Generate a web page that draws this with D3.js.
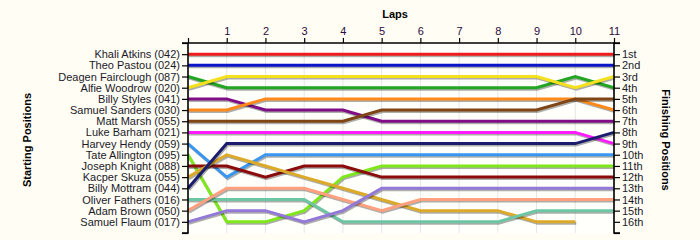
<!DOCTYPE html>
<html><head><meta charset="utf-8">
<script src="https://cdn.jsdelivr.net/npm/d3@7"></script>
<style>
html,body{margin:0;padding:0;background:#fffdf4;}
svg{display:block;font-family:"Liberation Sans",Arial,sans-serif;}
</style></head>
<body><svg id="c" width="700" height="240"></svg>
<script>
const laps = [0,1,2,3,4,5,6,7,8,9,10,11];
const lapLabels = ["","1","2","3","4","5","6","7","8","9","10","11"];
const drivers = ["Khali Atkins (042)","Theo Pastou (024)","Deagen Fairclough (087)","Alfie Woodrow (020)","Billy Styles (041)","Samuel Sanders (030)","Matt Marsh (055)","Luke Barham (021)","Harvey Hendy (059)","Tate Allington (095)","Joseph Knight (088)","Kacper Skuza (055)","Billy Mottram (044)","Oliver Fathers (016)","Adam Brown (050)","Samuel Flaum (017)"];
const finishLabels = ["1st","2nd","3rd","4th","5th","6th","7th","8th","9th","10th","11th","12th","13th","14th","15th","16th"];
const colors = ["#ee1c1c","#0a14c8","#22a522","#f4e01c","#800c86","#ff8a1a","#7f4515","#ff1aff","#3a96f0","#7ee81a","#8b0a0a","#dcaa28","#1c1c6e","#6cc6a4","#ffa07e","#9278d8"];
const pos = [
 [1,1,1,1,1,1,1,1,1,1,1,1],
 [2,2,2,2,2,2,2,2,2,2,2,2],
 [3,4,4,4,4,4,4,4,4,4,3,4],
 [4,3,3,3,3,3,3,3,3,3,4,3],
 [5,5,6,6,6,7,7,7,7,7,7,7],
 [6,6,5,5,5,5,5,5,5,5,5,6],
 [7,7,7,7,7,6,6,6,6,6,5,5],
 [8,8,8,8,8,8,8,8,8,8,8,9],
 [9,12,10,10,10,10,10,10,10,10,10,10],
 [10,16,16,15,12,11,11,11,11,11,11,11],
 [11,11,12,11,11,12,12,12,12,12,12,12],
 [12,10,11,12,13,14,15,15,15,16,16,null],
 [13,9,9,9,9,9,9,9,9,9,9,8],
 [14,14,14,14,16,16,16,16,16,15,15,15],
 [15,13,13,13,14,15,14,14,14,14,14,14],
 [16,15,15,16,15,13,13,13,13,13,13,13]
];

const svg = d3.select("#c");
const L = 188, R = 614, T = 43, B = 233;
const x = d3.scaleLinear().domain([0,11]).range([L,R]);
const y = d3.scaleLinear().domain([0,17]).range([T,B]);

svg.append("rect").attr("x",L).attr("y",T).attr("width",R-L).attr("height",B-T).attr("fill","#fffffb");

// vertical gridlines
svg.append("g").selectAll("line").data(laps.slice(1)).join("line")
  .attr("x1",d=>x(d)).attr("x2",d=>x(d)).attr("y1",T).attr("y2",B)
  .attr("stroke","#e6e6e6").attr("stroke-width",1);

const line = d3.line().defined(d=>d[1]!=null).x(d=>x(d[0])).y(d=>y(d[1]));
const g = svg.append("g");
pos.forEach((p,i)=>{
  const pts = laps.map((l,j)=>[l,p[j]]);
  g.append("path").attr("d",line(pts)).attr("fill","none")
    .attr("stroke","#000").attr("stroke-opacity",0.32).attr("stroke-width",3)
    .attr("transform","translate(1,1.5)");
  g.append("path").attr("d",line(pts)).attr("fill","none")
    .attr("stroke",colors[i]).attr("stroke-width",3);
});

const ticksY = d3.range(0,18);
const axL = svg.append("g").attr("transform",`translate(${L},0)`)
  .call(d3.axisLeft(y).tickValues(ticksY).tickSize(6).tickPadding(2).tickFormat(d=>(d>=1&&d<=16)?drivers[d-1]:""));
const axR = svg.append("g").attr("transform",`translate(${R},0)`)
  .call(d3.axisRight(y).tickValues(ticksY).tickSize(6).tickPadding(2).tickFormat(d=>(d>=1&&d<=16)?finishLabels[d-1]:""));
const axT = svg.append("g").attr("transform",`translate(0,${T})`)
  .call(d3.axisTop(x).tickValues(laps).tickSize(5).tickPadding(3).tickFormat((d,i)=>lapLabels[i]));
[axL,axR,axT].forEach(a=>{
  a.select(".domain").attr("stroke","#000").attr("stroke-width",1.6);
  a.selectAll(".tick line").attr("stroke","#000").attr("stroke-width",1.2);
  a.selectAll("text").attr("font-size",11).attr("fill","#1a1a2a").attr("font-family","'Liberation Sans',Arial,sans-serif");
});
axT.selectAll("text").attr("fill","#2a0a40");
axL.select(".domain").attr("d",`M-6,${T}H0V${B}H-6`);
axR.select(".domain").attr("d",`M6,${T}H0V${B}H6`);
axT.select(".domain").attr("d",`M${L},0H${R}`);

svg.append("text").attr("x",395).attr("y",18).attr("text-anchor","middle")
  .attr("font-size",11).attr("font-weight","bold").text("Laps");
svg.append("text").attr("transform","translate(31,140) rotate(-90)").attr("text-anchor","middle")
  .attr("font-size",11).attr("font-weight","bold").text("Starting Positions");
svg.append("text").attr("transform","translate(662,140) rotate(90)").attr("text-anchor","middle")
  .attr("font-size",11).attr("font-weight","bold").text("Finishing Positions");
</script></body></html>
